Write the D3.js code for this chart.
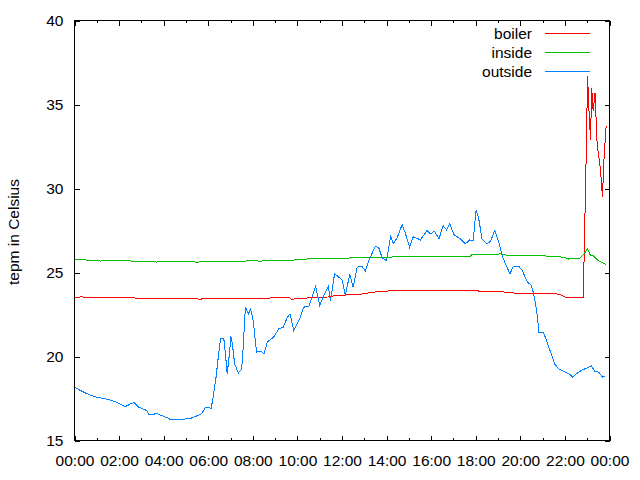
<!DOCTYPE html>
<html><head><meta charset="utf-8">
<script src="https://cdn.jsdelivr.net/npm/d3@7"></script>
<style>
body{margin:0;background:#fff}
text{font-family:"Liberation Sans",Arial,sans-serif;font-size:15.5px;fill:#000}
</style>
</head><body>
<svg id="chart" width="640" height="480"></svg>
<script>
// ---- data (time in minutes after midnight) ----
const seriesNames = ["boiler", "inside", "outside"];
const seriesColors = ["#ff0000", "#00c000", "#0080ff"];

const boilerMinutes = [0,20,40,70,100,140,182,200,260,330,337,345,400,460,500,540,580,584,600,640,690,700,770,780,819,870,900,1000,1085,1090,1147,1166,1200,1295,1310,1322,1350,1369,1371,1374,1377,1381,1384,1389,1392,1396,1401,1407,1413,1418,1421,1425,1429,1431];
const boilerTemps = [23.52,23.55,23.50,23.53,23.50,23.52,23.45,23.45,23.45,23.45,23.38,23.45,23.45,23.45,23.45,23.50,23.50,23.40,23.45,23.50,23.55,23.63,23.70,23.75,23.87,23.93,23.93,23.93,23.93,23.87,23.87,23.81,23.75,23.75,23.65,23.52,23.50,23.50,25.16,28.45,31.70,36.67,35.0,32.86,36.0,34.6,35.7,32.5,31.67,30.5,29.5,31.7,33.05,33.75];

const insideMinutes = [0,20,40,55,70,90,110,140,170,200,220,240,270,300,330,360,400,440,470,500,530,560,600,640,700,770,830,878,958,1064,1070,1140,1147,1155,1200,1260,1300,1320,1330,1345,1360,1372,1381,1389,1396,1410,1420,1431];
const insideTemps = [25.78,25.78,25.72,25.74,25.68,25.74,25.72,25.70,25.66,25.68,25.62,25.68,25.66,25.65,25.62,25.65,25.68,25.65,25.70,25.68,25.71,25.72,25.75,25.83,25.83,25.89,25.89,25.95,25.95,25.95,26.07,26.07,26.15,26.05,25.99,25.99,25.95,25.89,25.80,25.86,25.83,26.13,26.41,26.0,26.0,25.7,25.6,25.48];

const outsideMinutes = [0,16,34,52,79,101,119,137,151,160,173,194,200,223,250,258,285,312,330,342,353,368,373,381,388,393,402,407,411,417,421,425,431,441,450,454,460,468,474,481,490,501,510,519,536,550,562,573,580,590,608,617,631,649,660,671,683,689,700,707,721,729,741,750,761,774,783,792,810,819,828,840,851,858,869,882,891,902,912,931,949,958,969,981,992,1001,1010,1021,1039,1052,1064,1073,1081,1088,1097,1109,1120,1131,1142,1151,1160,1172,1181,1196,1205,1219,1229,1236,1244,1250,1262,1272,1283,1292,1304,1317,1331,1341,1353,1369,1380,1391,1400,1411,1421,1429];
const outsideTemps = [18.17,17.98,17.78,17.62,17.50,17.38,17.22,17.02,17.18,17.26,16.98,16.79,16.55,16.59,16.35,16.25,16.25,16.31,16.47,16.59,16.98,16.92,17.58,18.77,20.16,21.05,21.05,19.96,18.97,20.16,21.19,20.75,19.56,19.01,19.26,20.55,22.94,22.54,22.83,22.14,20.26,20.32,20.16,20.86,21.15,21.65,21.75,22.34,22.54,21.55,22.34,22.94,22.98,24.17,23.04,23.63,24.17,23.33,24.92,24.82,24.52,23.63,24.92,24.13,25.32,25.36,25.08,25.71,26.57,26.47,25.87,25.71,27.20,26.71,27.10,27.86,27.30,26.51,27.14,26.94,27.50,27.30,27.46,27.00,27.80,27.54,27.90,27.26,27.00,26.71,26.94,26.90,28.73,28.20,27.00,26.71,26.86,27.50,26.80,26.01,25.52,24.92,25.36,25.36,25.12,24.42,24.26,23.73,22.74,21.45,21.45,20.86,20.16,19.56,19.26,19.11,18.97,18.77,19.01,19.23,19.31,19.45,19.13,19.07,18.77,18.81];

const xTickMinutes = [0,120,240,360,480,600,720,840,960,1080,1200,1320,1440];
const xTickLabels = ["00:00","02:00","04:00","06:00","08:00","10:00","12:00","14:00","16:00","18:00","20:00","22:00","00:00"];
const xMinorMinutes = [60,180,300,420,540,660,780,900,1020,1140,1260,1380];
const yTicks = [15,20,25,30,35,40];
const yLabel = "tepm in Celsius";

// ---- layout ----
const L = 74, R = 609, T = 20, B = 440;
const svg = d3.select("#chart");
const x = d3.scaleLinear().domain([0,1440]).range([L+0.5, R+0.5]);
const y = d3.scaleLinear().domain([15,40]).range([B+0.5, T+0.5]);

function styleAxis(g){
  g.select(".domain").remove();
  g.selectAll("line").attr("stroke","#000").attr("shape-rendering","crispEdges");
  g.selectAll("text").attr("font-family",null).attr("font-size",null).attr("fill","#000");
}

// bottom major
svg.append("g").attr("transform",`translate(0,${B+0.5})`)
  .call(d3.axisBottom(x).tickValues(xTickMinutes).tickFormat((d,i)=>xTickLabels[i]).tickSize(-5).tickPadding(14))
  .call(styleAxis);
// bottom minor
svg.append("g").attr("transform",`translate(0,${B+0.5})`)
  .call(d3.axisBottom(x).tickValues(xMinorMinutes).tickFormat("").tickSize(-2.5))
  .call(styleAxis);
// top major + minor
svg.append("g").attr("transform",`translate(0,${T+0.5})`)
  .call(d3.axisTop(x).tickValues(xTickMinutes).tickFormat("").tickSize(-5))
  .call(styleAxis);
svg.append("g").attr("transform",`translate(0,${T+0.5})`)
  .call(d3.axisTop(x).tickValues(xMinorMinutes).tickFormat("").tickSize(-2.5))
  .call(styleAxis);
// left
svg.append("g").attr("transform",`translate(${L+0.5},0)`)
  .call(d3.axisLeft(y).tickValues(yTicks).tickFormat(d3.format("d")).tickSize(-5).tickPadding(11))
  .call(styleAxis);
// right
svg.append("g").attr("transform",`translate(${R+0.5},0)`)
  .call(d3.axisRight(y).tickValues(yTicks).tickFormat("").tickSize(-5))
  .call(styleAxis);

// data lines
const line = d3.line().x(d=>x(d[0])).y(d=>y(d[1]));
const series = [
  d3.zip(boilerMinutes, boilerTemps),
  d3.zip(insideMinutes, insideTemps),
  d3.zip(outsideMinutes, outsideTemps)
];
[0,1,2].forEach(i=>{
  svg.append("path").datum(series[i])
    .attr("d", line).attr("fill","none")
    .attr("stroke", seriesColors[i]).attr("stroke-width",1)
    .attr("shape-rendering","crispEdges");
});

// border
svg.append("rect").attr("x",L+0.5).attr("y",T+0.5).attr("width",R-L).attr("height",B-T)
  .attr("fill","none").attr("stroke","#000").attr("shape-rendering","crispEdges");

// legend
seriesNames.forEach((name,i)=>{
  const ly = 33 + i*19;
  svg.append("text").attr("x",532).attr("y",ly+5.5).attr("text-anchor","end").text(name);
  svg.append("line").attr("x1",545).attr("x2",590).attr("y1",ly+0.5).attr("y2",ly+0.5)
    .attr("stroke",seriesColors[i]).attr("stroke-width",1).attr("shape-rendering","crispEdges");
});

// y label
svg.append("text").attr("transform","translate(19,232) rotate(-90)")
  .attr("text-anchor","middle").text(yLabel);
</script>
</body></html>
